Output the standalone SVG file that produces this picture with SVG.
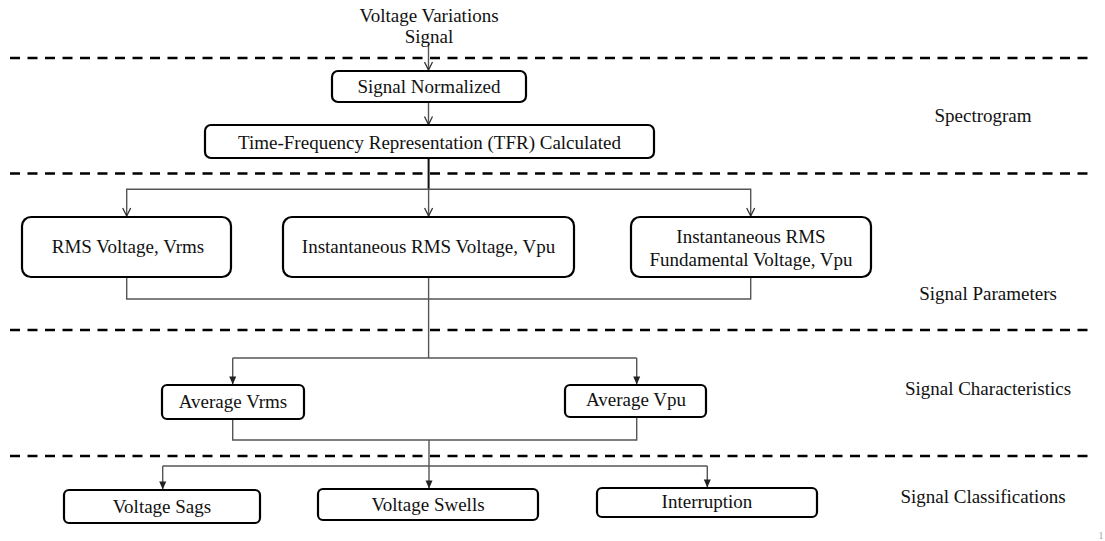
<svg xmlns="http://www.w3.org/2000/svg" width="1105" height="541" viewBox="0 0 1105 541">
<style>
text{font-family:"Liberation Serif","Times New Roman",serif;font-size:19px;fill:#111;text-anchor:middle}
.box{fill:#fff;stroke:#000;stroke-width:2.2}
.dash{stroke:#000;stroke-width:2.5;stroke-dasharray:10 7.5;fill:none}
.c{stroke:#555;stroke-width:1.4;fill:none}
.ck{stroke:#111;stroke-width:2;fill:none}
</style>
<defs>
<marker id="open" markerWidth="10" markerHeight="10" refX="9" refY="5" orient="auto-start-reverse" markerUnits="userSpaceOnUse" viewBox="0 0 10 10">
<path d="M1,1 L9,5 L1,9" fill="none" stroke="#333" stroke-width="1.3"/>
</marker>
<marker id="fill" markerWidth="10" markerHeight="8" refX="9" refY="4" orient="auto" markerUnits="userSpaceOnUse" viewBox="0 0 10 8">
<path d="M1,0.5 L9,4 L1,7.5 Z" fill="#222"/>
</marker>
</defs>
<g id="separators">
<line class="dash" x1="10" y1="58" x2="1094" y2="58"/>
<line class="dash" x1="10" y1="173.5" x2="1094" y2="173.5"/>
<line class="dash" x1="10" y1="330" x2="1094" y2="330"/>
<line class="dash" x1="10" y1="456" x2="1094" y2="456"/>
</g>
<g id="connectors">
<line class="c" x1="428.5" y1="44" x2="428.5" y2="70" marker-end="url(#open)"/>
<line class="c" x1="428.5" y1="102" x2="428.5" y2="124.5" marker-end="url(#open)"/>
<line class="ck" x1="428.6" y1="158" x2="428.6" y2="189.3"/>
<polyline class="c" points="126.7,216 126.7,189.3 750.7,189.3 750.7,216" marker-start="url(#open)" marker-end="url(#open)"/>
<line class="c" x1="428.6" y1="189.3" x2="428.6" y2="216" marker-end="url(#open)"/>
<polyline class="c" points="126.7,277 126.7,299 750.7,299 750.7,277"/>
<line class="c" x1="428.6" y1="277" x2="428.6" y2="358"/>
<polyline class="c" points="232.7,358 636.7,358"/>
<line class="c" x1="232.7" y1="358" x2="232.7" y2="384.5" marker-end="url(#fill)"/>
<line class="c" x1="636.7" y1="358" x2="636.7" y2="384.5" marker-end="url(#fill)"/>
<polyline class="c" points="232.7,419 232.7,440 636.7,440 636.7,417"/>
<line class="c" x1="429" y1="440" x2="429" y2="488.5" marker-end="url(#fill)"/>
<polyline class="c" points="162.7,466 707.3,466"/>
<line class="c" x1="162.7" y1="466" x2="162.7" y2="489.5" marker-end="url(#fill)"/>
<line class="c" x1="707.3" y1="466" x2="707.3" y2="487.5" marker-end="url(#fill)"/>
</g>
<g id="title"><text x="429" y="22">Voltage Variations</text><text x="429" y="43">Signal</text></g>
<g id="signal-normalized"><rect class="box" x="332" y="71" width="194" height="31" rx="6"/><text x="429" y="93">Signal Normalized</text></g>
<g id="tfr"><rect class="box" x="205" y="125" width="449" height="33" rx="6"/><text x="429.5" y="148.5">Time-Frequency Representation (TFR) Calculated</text></g>
<g id="rms-voltage"><rect class="box" x="22" y="217" width="209" height="60" rx="9"/><text x="128" y="253">RMS Voltage, Vrms</text></g>
<g id="inst-rms"><rect class="box" x="283" y="217" width="291" height="60" rx="9"/><text x="428.5" y="253">Instantaneous RMS Voltage, Vpu</text></g>
<g id="inst-fund"><rect class="box" x="631" y="217" width="240" height="60" rx="9"/><text x="751" y="243">Instantaneous RMS</text><text x="751" y="266">Fundamental Voltage, Vpu</text></g>
<g id="avg-vrms"><rect class="box" x="162" y="385" width="142" height="34" rx="5"/><text x="233" y="408">Average Vrms</text></g>
<g id="avg-vpu"><rect class="box" x="565" y="385" width="141" height="32" rx="5"/><text x="636" y="406">Average Vpu</text></g>
<g id="sags"><rect class="box" x="64" y="490" width="196" height="33" rx="5"/><text x="162" y="513">Voltage Sags</text></g>
<g id="swells"><rect class="box" x="318" y="489" width="220" height="31" rx="5"/><text x="428" y="511">Voltage Swells</text></g>
<g id="interruption"><rect class="box" x="597" y="488" width="220" height="29" rx="5"/><text x="707" y="508">Interruption</text></g>
<g id="labels">
<text x="983" y="122">Spectrogram</text>
<text x="988" y="300">Signal Parameters</text>
<text x="988" y="395">Signal Characteristics</text>
<text x="983" y="503">Signal Classifications</text>
<text x="1101" y="539" style="font-size:11px;fill:#aaa">1</text>
</g>
</svg>
